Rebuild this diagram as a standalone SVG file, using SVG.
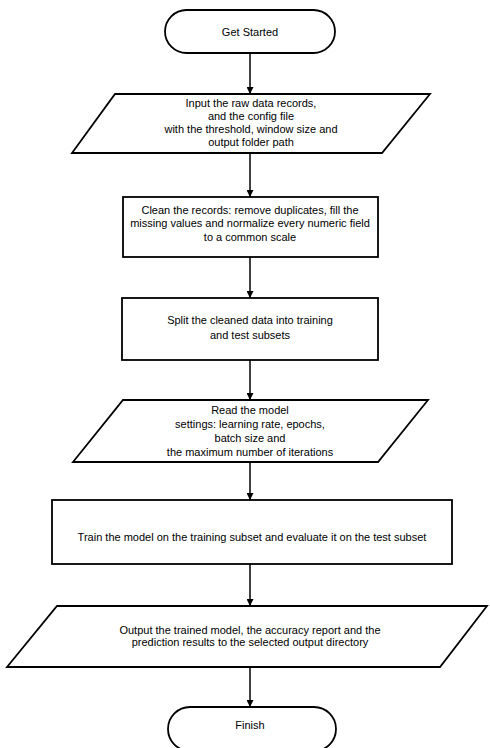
<svg xmlns="http://www.w3.org/2000/svg" width="490" height="748" viewBox="0 0 490 748">
<style>
.shape{fill:#ffffff;stroke:#000000;stroke-width:1.8}
.lbl{font-family:"Liberation Sans",Arial,sans-serif;font-size:11px;fill:#000000;text-anchor:middle}
.conn{stroke:#000000;stroke-width:1.5;fill:none}
</style>
<defs>
<marker id="arr" viewBox="0 0 10 10" refX="10" refY="5" markerWidth="7" markerHeight="7" orient="auto" markerUnits="userSpaceOnUse">
<path d="M0,0 L10,5 L0,10 z" fill="#000000"/>
</marker>
</defs>
<rect width="490" height="748" fill="#ffffff"/>
<g id="connectors">
<line class="conn" x1="250" y1="53" x2="250" y2="94" marker-end="url(#arr)"/>
<line class="conn" x1="250" y1="153" x2="250" y2="197" marker-end="url(#arr)"/>
<line class="conn" x1="250" y1="257" x2="250" y2="298" marker-end="url(#arr)"/>
<line class="conn" x1="250" y1="360" x2="250" y2="400" marker-end="url(#arr)"/>
<line class="conn" x1="250" y1="462" x2="250" y2="500" marker-end="url(#arr)"/>
<line class="conn" x1="250" y1="564" x2="250" y2="606" marker-end="url(#arr)"/>
<line class="conn" x1="250" y1="667" x2="250" y2="707" marker-end="url(#arr)"/>
</g>
<g id="start">
<rect class="shape" x="165" y="10" width="170" height="43" rx="21.5" ry="21.5"/>
<text class="lbl" x="250" y="35.5">Get Started</text>
</g>
<g id="input-data">
<polygon class="shape" points="115,94 430,94 382,153 72,153"/>
<text class="lbl" x="251" y="106.5">Input the raw data records,</text>
<text class="lbl" x="251" y="119.5">and the config file</text>
<text class="lbl" x="251" y="132.5">with the threshold, window size and</text>
<text class="lbl" x="251" y="145.5">output folder path</text>
</g>
<g id="clean-data">
<rect class="shape" x="123" y="197" width="255" height="60"/>
<text class="lbl" x="250" y="213.5">Clean the records: remove duplicates, fill the</text>
<text class="lbl" x="250" y="227">missing values and normalize every numeric field</text>
<text class="lbl" x="250" y="241">to a common scale</text>
</g>
<g id="split-data">
<rect class="shape" x="122" y="298" width="256" height="62"/>
<text class="lbl" x="250" y="324">Split the cleaned data into training</text>
<text class="lbl" x="250" y="338.5">and test subsets</text>
</g>
<g id="read-settings">
<polygon class="shape" points="123,400 428,400 378,462 73,462"/>
<text class="lbl" x="250" y="413.5">Read the model</text>
<text class="lbl" x="250" y="427.5">settings: learning rate, epochs,</text>
<text class="lbl" x="250" y="441.5">batch size and</text>
<text class="lbl" x="250" y="455.5">the maximum number of iterations</text>
</g>
<g id="train-model">
<rect class="shape" x="52" y="500" width="400" height="64"/>
<text class="lbl" x="252" y="540.5">Train the model on the training subset and evaluate it on the test subset</text>
</g>
<g id="output-results">
<polygon class="shape" points="57,606 487,606 440,667 7,667"/>
<text class="lbl" x="250" y="633.5">Output the trained model, the accuracy report and the</text>
<text class="lbl" x="250" y="646">prediction results to the selected output directory</text>
</g>
<g id="end">
<rect class="shape" x="168" y="707" width="168" height="44" rx="22" ry="22"/>
<text class="lbl" x="250" y="729">Finish</text>
</g>
</svg>
